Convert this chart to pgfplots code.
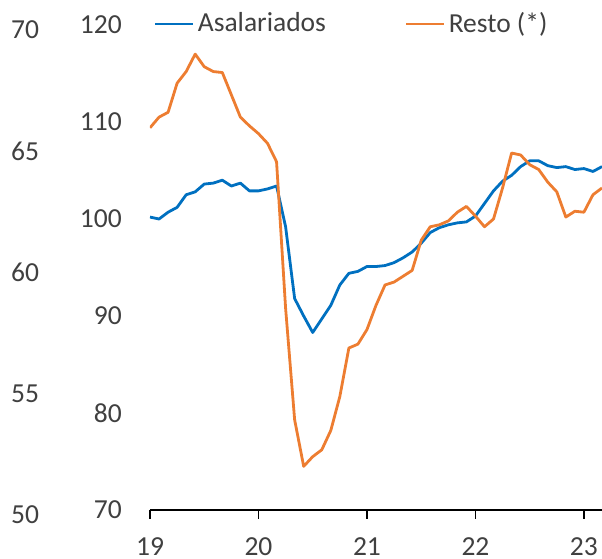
\documentclass[border=0pt]{standalone}
\usepackage{pgfplots}
\pgfplotsset{compat=1.18}
\usepackage{pgfplotstable}
\usepackage{fontspec}
\setmainfont{Carlito}
\definecolor{cblue}{HTML}{0070C0}
\definecolor{corange}{HTML}{ED7D31}
\definecolor{ctext}{HTML}{404040}

\pgfplotstableread{
m asal resto
0 100.2 109.4
1 100.0 110.5
2 100.7 111.0
3 101.2 114.0
4 102.5 115.2
5 102.8 117.0
6 103.6 115.7
7 103.7 115.2
8 104.0 115.1
9 103.4 112.8
10 103.7 110.5
11 102.9 109.6
12 102.9 108.8
13 103.1 107.8
14 103.4 105.9
15 99.2 90.8
16 91.8 79.3
17 90.0 74.5
18 88.3 75.5
19 89.7 76.2
20 91.1 78.2
21 93.2 81.7
22 94.4 86.7
23 94.6 87.1
24 95.1 88.6
25 95.1 91.1
26 95.2 93.2
27 95.5 93.5
28 96.0 94.1
29 96.6 94.7
30 97.5 97.8
31 98.6 99.2
32 99.1 99.4
33 99.4 99.8
34 99.6 100.7
35 99.7 101.3
36 100.3 100.3
37 101.6 99.2
38 102.9 100.0
39 103.9 103.2
40 104.5 106.8
41 105.4 106.6
42 106.0 105.6
43 106.0 105.1
44 105.5 103.8
45 105.3 102.8
46 105.4 100.2
47 105.1 100.8
48 105.2 100.7
49 104.9 102.5
50 105.4 103.2
}\datatable

\begin{document}
\fontsize{27.5}{33}\selectfont
\begin{tikzpicture}[x=1pt,y=1pt]
\path[use as bounding box] (-150,-49) rectangle (452,510);
% outer (secondary) scale
\begin{axis}[
  at={(0,-2)}, anchor=south west, scale only axis,
  width=452pt, height=485pt,
  xmin=0, xmax=50, ymin=50, ymax=70,
  hide x axis,
  axis y line*=left,
  y axis line style={draw=none},
  ytick={50,55,60,65,70},
  yticklabels={50,55,60,65,70},
  ytick style={draw=none},
  major tick length=0pt,
  yticklabel style={anchor=center, inner sep=0pt, xshift=-125pt, text=ctext, font=\fontsize{27.5}{33}\selectfont},
  /pgf/number format/assume math mode=true,
]
\addplot[draw=none] coordinates {(0,50)};
\end{axis}
% main axis
\begin{axis}[
  at={(0,0)}, anchor=south west, scale only axis,
  width=452pt, height=485pt,
  xmin=0, xmax=50, ymin=70, ymax=120,
  axis x line*=bottom,
  axis y line*=left,
  x axis line style={-, line width=1.3pt, black},
  y axis line style={draw=none},
  ytick={70,80,90,100,110,120},
  yticklabels={70,80,90,100,110,120},
  ytick style={draw=none},
  xtick={0,12,24,36,48},
  xticklabels={19,20,21,22,23},
  xtick align=outside,
  major tick length=9pt,
  xtick style={line width=1.3pt, black},
  yticklabel style={anchor=east, inner sep=0pt, xshift=-28pt, text=ctext, font=\fontsize{27.5}{33}\selectfont},
  xticklabel style={anchor=base, inner sep=0pt, text depth=0pt, yshift=-37pt, text=ctext, font=\fontsize{27.5}{33}\selectfont},
  /pgf/number format/assume math mode=true,
  legend columns=2,
  legend image code/.code={\draw[#1] (0pt,0pt) -- (38pt,0pt);},
  legend style={draw=none, fill=none, inner sep=0pt, outer sep=0pt,
    at={(rel axis cs:0.009,1.002)}, anchor=west,
    nodes={inner sep=3pt, text=ctext},
    font=\fontsize{27.5}{33}\selectfont,
    /tikz/every even column/.append style={column sep=76pt}},
]
\addplot[cblue, line width=2.8pt, line join=round] table[x=m, y=asal] {\datatable};
\addlegendentry{Asalariados}
\addplot[corange, line width=2.8pt, line join=round] table[x=m, y=resto] {\datatable};
\addlegendentry{Resto (*)}
\end{axis}
\end{tikzpicture}
\end{document}
